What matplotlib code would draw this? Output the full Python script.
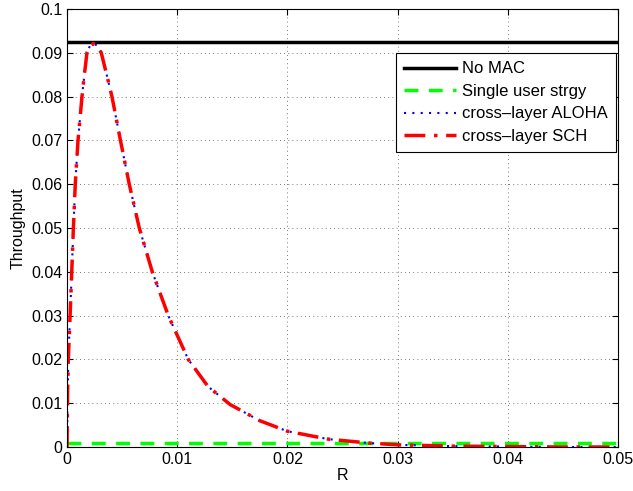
import numpy as np
import matplotlib
matplotlib.use("Agg")
import matplotlib.pyplot as plt

plt.rcParams['font.family'] = ['Liberation Sans', 'DejaVu Sans']
plt.rcParams['font.size'] = 11.5

# values
r_vals = [0, 0.00005, 0.00012, 0.00028, 0.00043, 0.00058, 0.00075, 0.001,
          0.00136, 0.0016, 0.00181, 0.0021, 0.0024, 0.0027, 0.00311, 0.0036,
          0.00408, 0.00485, 0.00565, 0.00656, 0.00774, 0.00919, 0.0110,
          0.0128, 0.0148, 0.0175, 0.020, 0.0237, 0.0274, 0.030, 0.035,
          0.040, 0.045, 0.050]
aloha = [0, 0.012, 0.020, 0.030, 0.040, 0.050, 0.060, 0.070,
         0.080, 0.0855, 0.090, 0.0917, 0.0921, 0.0917, 0.090, 0.085,
         0.080, 0.070, 0.060, 0.050, 0.040, 0.030, 0.020,
         0.0138, 0.0097, 0.0060, 0.0036, 0.0018, 0.0009, 0.0005, 0.0002,
         0.0001, 0.0, 0.0]
sch = [0, 0.012, 0.020, 0.030, 0.040, 0.050, 0.060, 0.070,
       0.080, 0.0855, 0.090, 0.0917, 0.0921, 0.0917, 0.090, 0.085,
       0.080, 0.070, 0.060, 0.050, 0.040, 0.030, 0.020,
       0.0138, 0.0097, 0.0060, 0.0036, 0.0018, 0.0009, 0.0005, 0.0002,
       0.0001, 0.0, 0.0]
no_mac = 0.0924
single_user = 0.0008

fig = plt.figure(figsize=(6.33, 4.91), dpi=100)
ax = fig.add_axes([67/633, 44/491, 551/633, 438/491])

ax.plot([0, 0.05], [no_mac, no_mac], color='black', lw=2.5, label='No MAC')
ax.plot([0, 0.05], [single_user, single_user], color='#00ff00', lw=2.5,
        ls=(0, (4, 3)), label='Single user strgy')
ax.plot(r_vals, aloha, color='blue', lw=1.5, ls=(0, (1, 3)),
        label='cross\u2013layer ALOHA')
ax.plot(r_vals, sch, color='red', lw=2.5, ls=(0, (6, 2.5, 1, 2.5)),
        label='cross\u2013layer SCH')

ax.set_xlim(0, 0.05)
ax.set_ylim(0, 0.1)
ax.set_xticks(np.arange(0, 0.051, 0.01))
ax.set_xticklabels(['0', '0.01', '0.02', '0.03', '0.04', '0.05'])
ax.set_yticks(np.arange(0, 0.101, 0.01))
ax.set_yticklabels(['0', '0.01', '0.02', '0.03', '0.04', '0.05', '0.06',
                    '0.07', '0.08', '0.09', '0.1'])
ax.tick_params(direction='in', top=True, right=True, length=4)
ax.grid(True, color='0.3', ls=(0, (1, 4)), lw=0.6)
ax.set_xlabel('R', labelpad=1)
ax.set_ylabel('Throughput', labelpad=4)

leg = ax.legend(loc='upper right', bbox_to_anchor=(0.9964, 0.8995),
                borderaxespad=0, fancybox=False, framealpha=1,
                edgecolor='black', handlelength=3.1, handletextpad=0.36,
                labelspacing=0.45, borderpad=0.5, fontsize=12)
leg.get_frame().set_linewidth(0.8)

fig.savefig('out.png', dpi=100)
